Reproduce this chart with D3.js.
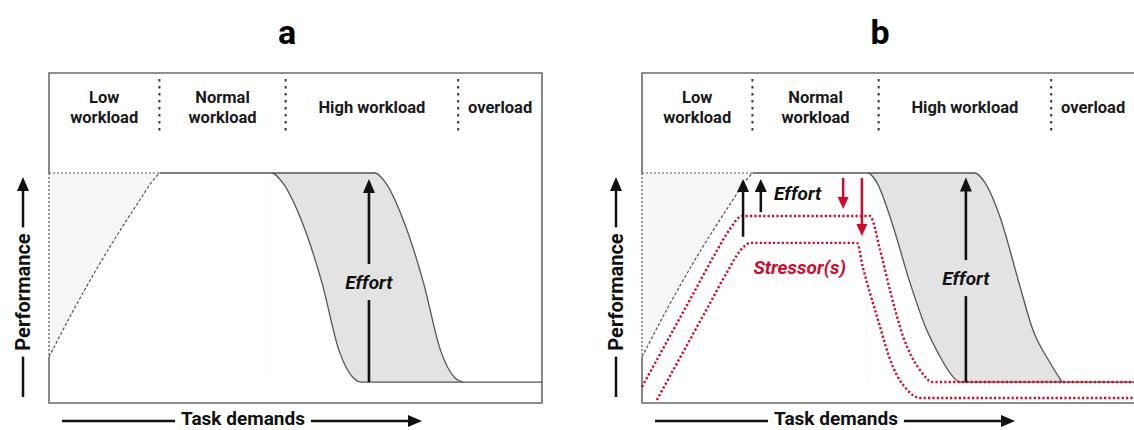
<!DOCTYPE html><html><head><meta charset="UTF-8"><script src="https://d3js.org/d3.v7.min.js"></script><style>
body { margin: 0; background: #fff; }
svg { display: block; font-family: Roboto, "Noto Sans", Arial, sans-serif; }
</style></head><body><div id="chart"></div><script>
// task-demand zones (x in 0-100 units) and their labels
const regionBounds = [0, 22.4, 48, 83, 100];
const regionLabels = [["Low", "workload"], ["Normal", "workload"], ["High workload"], ["overload"]];
const maxPerf = 100;
const overloadLevel = 9.1;
// dashed rise (both panels)
const baseRise = [[0, 20], [5, 40.5], [10, 59.5], [15, 77], [18.5, 88.5], [20.8, 96], [22.4, 100]];
// panel a: performance drop and effort-compensated drop
const aDescent = [[45.2, 100], [47.3, 96], [50.9, 81], [55.4, 52], [58.8, 23], [61.7, 11], [63.5, 9.1]];
const aEffortEdge = [[66.1, 100], [68.2, 96], [71.6, 81], [76, 52], [79.4, 23], [82.3, 11], [84, 9.1]];
// panel b
const bDescent = [[45.8, 100], [47.6, 96], [50.3, 81], [54.4, 52], [57.5, 33], [60.5, 20], [62.5, 13], [64.5, 9.1]];
const bEffortEdge = [[67.5, 100], [69.5, 96], [72.6, 81], [76.5, 52], [79.3, 31.7], [82.8, 17.4], [85.2, 9.1]];
const stressorUpper = [[0, 7], [5, 26.5], [10, 46], [15, 65.5], [17.8, 75.5], [20.3, 81.3], [46.2, 81.3], [48.3, 66.5], [50.3, 49], [53, 28.7], [56.4, 14.3], [59, 9.1], [100, 9.1]];
const stressorLower = [[3, 1.3], [8, 20.8], [13, 40.3], [17.5, 57.8], [20, 66.5], [22, 69.6], [43.6, 69.6], [44.8, 59], [47.7, 37.4], [50.9, 15.7], [53.8, 5.7], [56.4, 2.2], [100, 2.2]];
// small arrows in b: [x, from, to]
const bEffortUp = [[20.5, 72.3, 97.4], [24.1, 83, 97.4]];
const bStressDown = [[40.8, 97.8, 84.3], [44.6, 97.8, 72.6]];
// big effort arrow: [x, from, to, label y]
const aBigEffort = [64.9, 9.1, 97.4, 52.6];
const bBigEffort = [65.7, 9.1, 98, 54.3];

const RED = "#d3082a";
const LINE = "#555";
const boxW = 493, boxTop = 73, boxH = 330;

const svg = d3.select('#chart').append('svg')
    .attr('width', 1134)
    .attr('height', 430);

const x = d3.scaleLinear().domain([0, 100]).range([0, boxW]);
const y = d3.scaleLinear().domain([0, 100]).range([boxH, 100]);

const line = d3.line().x(d => x(d[0])).y(d => y(d[1])).curve(d3.curveMonotoneX);

function arrow(g, x1, y1, x2, y2, color, w, hw, hl) {
    const len = Math.hypot(x2 - x1, y2 - y1);
    const ux = (x2 - x1) / len, uy = (y2 - y1) / len;
    g.append('line')
        .attr('x1', x1).attr('y1', y1)
        .attr('x2', x2 - ux * (hl - 1)).attr('y2', y2 - uy * (hl - 1))
        .attr('stroke', color).attr('stroke-width', w);
    const bx = x2 - ux * hl, by = y2 - uy * hl;
    g.append('path')
        .attr('d', `M${x2},${y2}L${bx - uy * hw / 2},${by + ux * hw / 2}L${bx + uy * hw / 2},${by - ux * hw / 2}Z`)
        .attr('fill', color);
}

function drawPanel(left, title, descent, edge, bigEffort, stress) {
    const g = svg.append('g').attr('transform', `translate(${left},${boxTop})`);

    svg.append('text')
        .attr('x', left + 238).attr('y', 44)
        .attr('text-anchor', 'middle')
        .style('font-size', '34px').style('font-weight', 700)
        .text(title);

    // light area above the dashed rise
    g.append('path')
        .datum(baseRise)
        .attr('d', d3.area().x(d => x(d[0])).y0(y(maxPerf)).y1(d => y(d[1])).curve(d3.curveMonotoneX))
        .attr('fill', '#f6f6f6');

    // effort band
    const upper = [descent[0]].concat(edge);
    g.append('path')
        .datum(upper)
        .attr('d', d3.area().x(d => x(d[0])).y0(y(overloadLevel)).y1(d => y(d[1])).curve(d3.curveMonotoneX))
        .attr('fill', '#e3e3e3');
    g.append('path')
        .datum(descent)
        .attr('d', d3.area().x(d => x(d[0])).y0(y(overloadLevel) + 1).y1(d => y(d[1])).curve(d3.curveMonotoneX))
        .attr('fill', '#fff');

    // frame (left edge dotted where the light area sits)
    g.append('path')
        .attr('d', `M0,${y(baseRise[0][1])}L0,${boxH}L${boxW},${boxH}L${boxW},0L0,0L0,${y(maxPerf)}`)
        .attr('fill', 'none').attr('stroke', '#6b6b6b').attr('stroke-width', 1.6);
    g.append('line')
        .attr('x1', 0).attr('x2', 0)
        .attr('y1', y(maxPerf)).attr('y2', y(baseRise[0][1]))
        .attr('stroke', LINE).attr('stroke-width', 1.2).attr('stroke-dasharray', '2,2');
    g.append('line')
        .attr('x1', 0).attr('x2', x(baseRise[baseRise.length - 1][0]))
        .attr('y1', y(maxPerf)).attr('y2', y(maxPerf))
        .attr('stroke', LINE).attr('stroke-width', 1.2).attr('stroke-dasharray', '2,2');

    // zone dividers and labels
    regionBounds.slice(1, -1).forEach(b => {
        g.append('line')
            .attr('x1', x(b)).attr('x2', x(b))
            .attr('y1', 6).attr('y2', 58)
            .attr('stroke', '#333').attr('stroke-width', 2).attr('stroke-dasharray', '2.5,4.5');
    });
    regionLabels.forEach((lab, i) => {
        const cx = x((regionBounds[i] + regionBounds[i + 1]) / 2);
        const t = g.append('text')
            .attr('text-anchor', 'middle')
            .style('font-size', '16.5px').style('font-weight', 700).attr('fill', '#1a1a1a');
        lab.forEach((s, j) => {
            t.append('tspan')
                .attr('x', cx)
                .attr('y', (lab.length === 1 ? 40 : 30 + j * 20))
                .text(s);
        });
    });

    // dashed rise
    g.append('path').datum(baseRise)
        .attr('d', line)
        .attr('fill', 'none').attr('stroke', LINE).attr('stroke-width', 1.2).attr('stroke-dasharray', '3,2');

    // solid performance curve and effort edge
    const main = [baseRise[baseRise.length - 1]].concat(descent, [[100, overloadLevel]]);
    g.append('path').datum(main)
        .attr('d', line)
        .attr('fill', 'none').attr('stroke', LINE).attr('stroke-width', 1.3);
    g.append('path').datum(upper)
        .attr('d', line)
        .attr('fill', 'none').attr('stroke', LINE).attr('stroke-width', 1.3);

    if (stress) {
        [stressorUpper, stressorLower].forEach(s => {
            g.append('path').datum(s)
                .attr('d', line)
                .attr('fill', 'none').attr('stroke', RED).attr('stroke-width', 2.4)
                .attr('stroke-dasharray', '2.2,2.2');
        });
        bEffortUp.forEach(a => arrow(g, x(a[0]), y(a[1]), x(a[0]), y(a[2]), '#111', 2.5, 12, 13));
        bStressDown.forEach(a => arrow(g, x(a[0]), y(a[1]), x(a[0]), y(a[2]), RED, 2.5, 11, 12));
        g.append('text')
            .attr('x', x(26.8)).attr('y', y(91.3))
            .attr('dy', '0.35em')
            .style('font-size', '19px').style('font-weight', 700).style('font-style', 'italic')
            .attr('fill', '#111')
            .text('Effort');
        g.append('text')
            .attr('x', x(32)).attr('y', y(59.1))
            .attr('dy', '0.35em')
            .attr('text-anchor', 'middle')
            .style('font-size', '19px').style('font-weight', 700).style('font-style', 'italic')
            .attr('fill', RED)
            .text('Stressor(s)');
    }

    // big effort arrow
    arrow(g, x(bigEffort[0]), y(bigEffort[1]), x(bigEffort[0]), y(bigEffort[2]), '#111', 2.6, 12, 14);
    g.append('rect')
        .attr('x', x(bigEffort[0]) - 32).attr('y', y(bigEffort[3]) - 18)
        .attr('width', 64).attr('height', 36)
        .attr('fill', '#e3e3e3');
    g.append('text')
        .attr('x', x(bigEffort[0])).attr('y', y(bigEffort[3]))
        .attr('dy', '0.35em')
        .attr('text-anchor', 'middle')
        .style('font-size', '19px').style('font-weight', 700).style('font-style', 'italic')
        .attr('fill', '#111')
        .text('Effort');

    // axis arrows
    const tx = g.append('text')
        .attr('x', 194).attr('y', 345)
        .attr('dy', '0.35em')
        .attr('text-anchor', 'middle')
        .style('font-size', '19px').style('font-weight', 700).attr('fill', '#111')
        .text('Task demands');
    const tw = tx.node().getComputedTextLength();
    g.append('line')
        .attr('x1', 13).attr('x2', 194 - tw / 2 - 6)
        .attr('y1', 348).attr('y2', 348)
        .attr('stroke', '#111').attr('stroke-width', 2.5);
    arrow(g, 194 + tw / 2 + 6, 348, 373, 348, '#111', 2.5, 12, 14);

    const py = g.append('text')
        .attr('transform', `translate(-26,219) rotate(-90)`)
        .attr('dy', '0.35em')
        .attr('text-anchor', 'middle')
        .style('font-size', '20px').style('font-weight', 700).attr('fill', '#111')
        .text('Performance');
    const pw = py.node().getComputedTextLength();
    g.append('line')
        .attr('x1', -26).attr('x2', -26)
        .attr('y1', 324).attr('y2', 219 + pw / 2 + 6)
        .attr('stroke', '#111').attr('stroke-width', 2.5);
    arrow(g, -26, 219 - pw / 2 - 6, -26, 104, '#111', 2.5, 12, 14);
}

drawPanel(49, 'a', aDescent, aEffortEdge, aBigEffort, false);
drawPanel(642, 'b', bDescent, bEffortEdge, bBigEffort, true);
</script></body></html>
